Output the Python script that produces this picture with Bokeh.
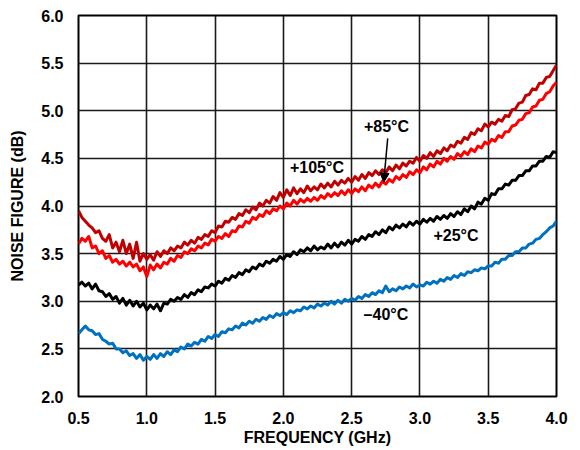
from bokeh.plotting import figure
from bokeh.models import Range1d, FixedTicker, NumeralTickFormatter, Arrow, NormalHead, ColumnDataSource
from bokeh.core.properties import value
from bokeh.embed import file_html
from bokeh.resources import INLINE

# Frequency sweep (GHz), 0.025 GHz steps starting at 0.5
FREQ_START = 0.5
FREQ_STEP = 0.025

# Noise figure (dB) per temperature
nf_105 = [3.95, 3.88, 3.84, 3.80, 3.77, 3.72, 3.74, 3.66, 3.63, 3.70,
          3.56, 3.62, 3.52, 3.64, 3.50, 3.60, 3.45, 3.62, 3.42, 3.50,
          3.44, 3.49, 3.43, 3.52, 3.47, 3.53, 3.50, 3.56, 3.53, 3.58,
          3.56, 3.62, 3.59, 3.64, 3.61, 3.67, 3.65, 3.70, 3.68, 3.74,
          3.72, 3.79, 3.78, 3.84, 3.83, 3.88, 3.86, 3.92, 3.90, 3.96,
          3.93, 3.99, 3.96, 4.03, 4.00, 4.06, 4.03, 4.10, 4.06, 4.14,
          4.09, 4.17, 4.11, 4.19, 4.13, 4.18, 4.14, 4.21, 4.16, 4.20,
          4.17, 4.23, 4.19, 4.24, 4.20, 4.26, 4.22, 4.27, 4.24, 4.29,
          4.25, 4.31, 4.27, 4.33, 4.29, 4.35, 4.32, 4.37, 4.33, 4.38,
          4.35, 4.41, 4.37, 4.43, 4.39, 4.45, 4.42, 4.47, 4.45, 4.51,
          4.47, 4.53, 4.50, 4.56, 4.52, 4.58, 4.55, 4.61, 4.58, 4.64,
          4.62, 4.68, 4.66, 4.72, 4.70, 4.77, 4.75, 4.81, 4.79, 4.86,
          4.83, 4.88, 4.86, 4.91, 4.89, 4.95, 4.94, 5.01, 5.02, 5.08,
          5.09, 5.16, 5.17, 5.23, 5.22, 5.29, 5.29, 5.35, 5.36, 5.42,
          5.48]
nf_85 = [3.60, 3.66, 3.63, 3.68, 3.56, 3.58, 3.50, 3.53, 3.45, 3.48,
         3.41, 3.44, 3.39, 3.42, 3.37, 3.41, 3.36, 3.39, 3.32, 3.36,
         3.26, 3.38, 3.33, 3.39, 3.35, 3.41, 3.39, 3.45, 3.42, 3.48,
         3.46, 3.52, 3.50, 3.55, 3.53, 3.58, 3.56, 3.61, 3.59, 3.65,
         3.63, 3.68, 3.66, 3.71, 3.68, 3.74, 3.73, 3.79, 3.78, 3.84,
         3.82, 3.88, 3.86, 3.91, 3.89, 3.95, 3.92, 3.97, 3.95, 4.00,
         3.97, 4.03, 4.00, 4.06, 4.02, 4.07, 4.04, 4.08, 4.05, 4.09,
         4.06, 4.11, 4.08, 4.13, 4.10, 4.14, 4.11, 4.16, 4.12, 4.17,
         4.13, 4.18, 4.15, 4.20, 4.16, 4.22, 4.19, 4.24, 4.20, 4.26,
         4.23, 4.28, 4.25, 4.31, 4.28, 4.33, 4.30, 4.36, 4.33, 4.38,
         4.35, 4.41, 4.38, 4.44, 4.41, 4.47, 4.44, 4.50, 4.47, 4.52,
         4.49, 4.55, 4.52, 4.57, 4.54, 4.60, 4.57, 4.63, 4.61, 4.67,
         4.65, 4.70, 4.68, 4.74, 4.72, 4.78, 4.78, 4.84, 4.85, 4.90,
         4.91, 4.97, 4.98, 5.04, 5.05, 5.11, 5.12, 5.18, 5.20, 5.26,
         5.30]
nf_25 = [3.17, 3.20, 3.16, 3.19, 3.13, 3.18, 3.11, 3.10, 3.05, 3.08,
         3.02, 3.05, 2.98, 3.03, 2.96, 3.01, 2.95, 3.00, 2.94, 2.98,
         2.91, 2.96, 2.92, 2.97, 2.90, 2.98, 2.97, 3.02, 3.00, 3.04,
         3.02, 3.07, 3.04, 3.09, 3.07, 3.12, 3.10, 3.15, 3.14, 3.18,
         3.16, 3.21, 3.19, 3.24, 3.22, 3.27, 3.25, 3.30, 3.28, 3.33,
         3.31, 3.36, 3.34, 3.39, 3.37, 3.42, 3.40, 3.44, 3.42, 3.47,
         3.44, 3.49, 3.47, 3.52, 3.49, 3.54, 3.52, 3.56, 3.53, 3.58,
         3.54, 3.57, 3.55, 3.60, 3.56, 3.61, 3.57, 3.62, 3.59, 3.64,
         3.60, 3.65, 3.63, 3.68, 3.65, 3.70, 3.68, 3.73, 3.70, 3.75,
         3.72, 3.78, 3.75, 3.80, 3.77, 3.81, 3.78, 3.83, 3.80, 3.84,
         3.81, 3.86, 3.83, 3.87, 3.84, 3.89, 3.86, 3.90, 3.87, 3.92,
         3.89, 3.94, 3.91, 3.97, 3.94, 4.00, 3.97, 4.04, 4.02, 4.08,
         4.06, 4.13, 4.12, 4.18, 4.18, 4.23, 4.22, 4.27, 4.27, 4.32,
         4.32, 4.37, 4.37, 4.42, 4.42, 4.47, 4.47, 4.52, 4.51, 4.57,
         4.56]
nf_m40 = [2.66, 2.70, 2.74, 2.70, 2.69, 2.65, 2.66, 2.60, 2.58, 2.55,
          2.56, 2.50, 2.50, 2.46, 2.48, 2.43, 2.45, 2.40, 2.44, 2.38,
          2.42, 2.39, 2.44, 2.40, 2.45, 2.42, 2.47, 2.44, 2.49, 2.47,
          2.52, 2.50, 2.55, 2.53, 2.57, 2.55, 2.60, 2.58, 2.63, 2.61,
          2.65, 2.63, 2.68, 2.67, 2.71, 2.70, 2.74, 2.72, 2.77, 2.75,
          2.79, 2.77, 2.81, 2.79, 2.83, 2.81, 2.85, 2.83, 2.87, 2.85,
          2.88, 2.86, 2.90, 2.88, 2.91, 2.90, 2.94, 2.92, 2.95, 2.93,
          2.97, 2.95, 2.98, 2.96, 3.00, 2.97, 3.01, 2.98, 3.02, 3.00,
          3.03, 3.01, 3.05, 3.03, 3.07, 3.05, 3.09, 3.07, 3.11, 3.09,
          3.16, 3.10, 3.13, 3.11, 3.15, 3.13, 3.16, 3.14, 3.18, 3.15,
          3.17, 3.16, 3.20, 3.18, 3.21, 3.19, 3.23, 3.21, 3.25, 3.23,
          3.27, 3.25, 3.29, 3.27, 3.31, 3.30, 3.33, 3.32, 3.35, 3.34,
          3.37, 3.37, 3.41, 3.40, 3.44, 3.44, 3.48, 3.48, 3.52, 3.52,
          3.56, 3.56, 3.60, 3.61, 3.65, 3.66, 3.70, 3.73, 3.77, 3.79,
          3.84]

series_colors = ["#0070C0", "#000000", "#FF0000", "#C00000"]

# Labels
label_text = ["+105°C", "+85°C", "+25°C", "–40°C"]
label_x = [2.246, 2.755, 3.264, 2.751]
label_y = [4.40, 4.835, 3.695, 2.866]

# Arrow for +85°C (start -> tip)
arrow_start = (2.764, 4.71)
arrow_end = (2.735, 4.25)

x_ticks = [0.5, 1.0, 1.5, 2.0, 2.5, 3.0, 3.5, 4.0]
y_ticks = [2.0, 2.5, 3.0, 3.5, 4.0, 4.5, 5.0, 5.5, 6.0]

FONT = "Liberation Sans"
FS = "16px"

p = figure(width=572, height=448, output_backend="svg", toolbar_location=None,
           x_range=Range1d(0.5, 4.0), y_range=Range1d(2.0, 6.0),
           min_border_left=78, min_border_right=16, min_border_top=15, min_border_bottom=52)

p.outline_line_color = "black"
p.outline_line_width = 2
p.background_fill_color = "white"
p.border_fill_color = "white"

for ax in (p.xaxis[0], p.yaxis[0]):
    ax.axis_line_color = None
    ax.major_tick_line_color = None
    ax.minor_tick_line_color = None
    ax.major_label_text_font = FONT
    ax.major_label_text_font_style = "bold"
    ax.major_label_text_font_size = FS
    ax.major_label_text_color = "black"
    ax.axis_label_text_font = FONT
    ax.axis_label_text_font_style = "bold"
    ax.axis_label_text_font_size = FS
    ax.axis_label_text_color = "black"
    ax.formatter = NumeralTickFormatter(format="0.0")

p.xaxis.ticker = FixedTicker(ticks=x_ticks)
p.yaxis.ticker = FixedTicker(ticks=y_ticks)
p.xaxis.axis_label = "FREQUENCY (GHz)"
p.yaxis.axis_label = "NOISE FIGURE (dB)"
p.xaxis.major_label_standoff = 9
p.xaxis.axis_label_standoff = 2
p.yaxis.major_label_standoff = 9
p.yaxis.axis_label_standoff = 12

p.xgrid.ticker = FixedTicker(ticks=x_ticks)
p.ygrid.ticker = FixedTicker(ticks=y_ticks)
p.grid.grid_line_color = "#1a1a1a"
p.grid.grid_line_width = 1.6
p.grid.grid_line_alpha = 1.0

for ys, col in zip([nf_m40, nf_25, nf_85, nf_105], series_colors):
    xs = [round(FREQ_START + FREQ_STEP * i, 4) for i in range(len(ys))]
    p.line(xs, ys, line_color=col, line_width=3.0, line_join="round")

src = ColumnDataSource(dict(x=label_x, y=label_y, t=label_text))
p.text(x="x", y="y", text="t", source=src, text_font=value(FONT), text_font_style="bold",
       text_font_size=FS, text_align="center", text_baseline="middle", text_color="black")

p.add_layout(Arrow(end=NormalHead(size=9, fill_color="black", line_color="black"),
                   x_start=arrow_start[0], y_start=arrow_start[1],
                   x_end=arrow_end[0], y_end=arrow_end[1],
                   line_color="black", line_width=1.5))

open("out.html", "w").write(file_html(p, INLINE))
